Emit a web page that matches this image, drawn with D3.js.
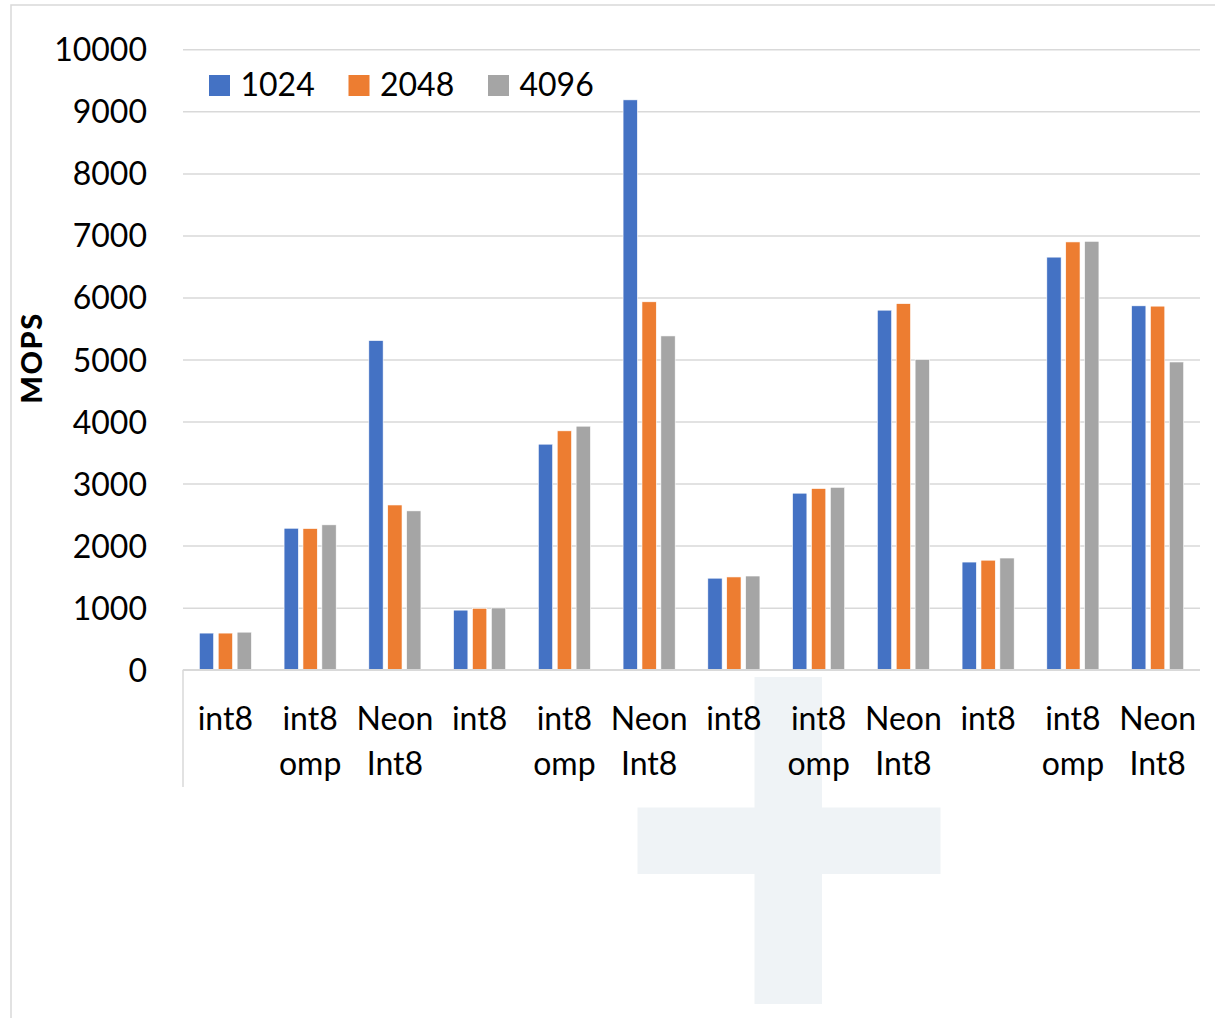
<!DOCTYPE html>
<html>
<head>
<meta charset="utf-8">
<script src="https://cdn.jsdelivr.net/npm/d3@7"></script>
<style>
  html, body { margin: 0; padding: 0; background: #ffffff; }
  svg { display: block; }
  text { font-family: Lato, "Open Sans", sans-serif; fill: #000; }
</style>
</head>
<body>
<svg id="chart" width="1215" height="1018"></svg>
<script>
// Benchmark throughput (MOPS) per implementation, for three problem sizes
const categories = [
  "int8", "int8 omp", "Neon Int8",
  "int8", "int8 omp", "Neon Int8",
  "int8", "int8 omp", "Neon Int8",
  "int8", "int8 omp", "Neon Int8"
];
const seriesNames = ["1024", "2048", "4096"];
const values1024 = [590, 2280, 5305, 960, 3635, 9185, 1475, 2845, 5795, 1735, 6650, 5865];
const values2048 = [590, 2275, 2655, 990, 3850, 5930, 1495, 2920, 5900, 1765, 6895, 5860];
const values4096 = [605, 2335, 2560, 995, 3925, 5380, 1510, 2940, 5000, 1800, 6905, 4960];
const seriesColors = ["#4472c4", "#ed7d31", "#a5a5a5"];
const yTicks = [0, 1000, 2000, 3000, 4000, 5000, 6000, 7000, 8000, 9000, 10000];
const yTitle = "MOPS";

const series = [values1024, values2048, values4096];

const svg = d3.select("#chart");
const W = 1215, H = 1018;
const plot = { left: 183, right: 1200, top: 49.3, bottom: 669.7 };

// outer chart frame (runs past the right and bottom edges)
svg.append("rect")
  .attr("x", 11).attr("y", 5)
  .attr("width", W + 20).attr("height", H + 20)
  .attr("fill", "#ffffff")
  .attr("stroke", "#d9d9d9").attr("stroke-width", 1.5);

const y = d3.scaleLinear().domain([0, 10000]).range([plot.bottom, plot.top]);
const x0 = d3.scaleBand().domain(d3.range(categories.length)).range([plot.left, plot.right]).padding(0);
const groupSpan = 52.1;
const x1 = d3.scaleBand().domain(d3.range(seriesNames.length)).range([0, groupSpan]).paddingInner(0.243).paddingOuter(0);

// light cross shape below the category axis
const cross = svg.append("g").attr("fill", "#eff3f6");
cross.append("rect").attr("x", 754.5).attr("y", 677).attr("width", 67.5).attr("height", 327);
cross.append("rect").attr("x", 637.5).attr("y", 807.5).attr("width", 303).attr("height", 66.5);

// horizontal gridlines
svg.append("g")
  .attr("transform", `translate(${plot.left},0)`)
  .call(d3.axisLeft(y).tickValues(yTicks).tickSize(-(plot.right - plot.left)).tickFormat(""))
  .call(g => g.select(".domain").remove())
  .call(g => g.selectAll("line").attr("stroke", "#d9d9d9").attr("stroke-width", 1.5));

// y tick labels
svg.append("g")
  .attr("transform", `translate(${plot.left},0)`)
  .call(d3.axisLeft(y).tickValues(yTicks).tickSize(0).tickPadding(36).tickFormat(d3.format("d")))
  .call(g => g.select(".domain").remove())
  .call(g => g.selectAll("text")
    .attr("font-size", 32)
    .attr("font-family", "Lato, 'Open Sans', sans-serif")
    .attr("fill", "#000")
    .attr("dy", "0.36em"));

// bars
const groups = svg.append("g").selectAll("g")
  .data(categories.map((c, i) => i))
  .join("g")
  .attr("transform", i => `translate(${x0(i) + x0.bandwidth() / 2 - groupSpan / 2},0)`);

groups.selectAll("rect")
  .data(i => series.map((s, k) => ({ k, v: s[i] })))
  .join("rect")
  .attr("x", d => x1(d.k))
  .attr("width", x1.bandwidth())
  .attr("y", d => y(d.v))
  .attr("height", d => y(0) - y(d.v))
  .attr("fill", d => seriesColors[d.k])
  .attr("stroke", "#ffffff")
  .attr("stroke-width", 0.6);

// category axis line and left divider
svg.append("line")
  .attr("x1", plot.left).attr("x2", plot.right)
  .attr("y1", y(0)).attr("y2", y(0))
  .attr("stroke", "#d9d9d9").attr("stroke-width", 1.5);
svg.append("line")
  .attr("x1", plot.left).attr("x2", plot.left)
  .attr("y1", y(0)).attr("y2", 787)
  .attr("stroke", "#d9d9d9").attr("stroke-width", 1.5);

// wrapped category labels
const labels = svg.append("g").selectAll("text")
  .data(categories.map((c, i) => ({ c, i })))
  .join("text")
  .attr("text-anchor", "middle")
  .attr("font-size", 32)
  .attr("x", d => x0(d.i) + x0.bandwidth() / 2)
  .attr("y", 729.5);
labels.selectAll("tspan")
  .data(d => d.c.split(" ").map(w => ({ w, x: x0(d.i) + x0.bandwidth() / 2 })))
  .join("tspan")
  .attr("x", d => d.x)
  .attr("dy", (d, j) => j === 0 ? 0 : 45.5)
  .text(d => d.w);

// y axis title
svg.append("text")
  .attr("transform", "translate(42,358) rotate(-90)")
  .attr("text-anchor", "middle")
  .attr("font-size", 29)
  .attr("font-weight", 900)
  .attr("letter-spacing", "1.5px")
  .text(yTitle);

// legend
const legend = svg.append("g").selectAll("g")
  .data(seriesNames.map((n, k) => ({ n, k })))
  .join("g")
  .attr("transform", d => `translate(${209 + d.k * 139.5},75)`);
legend.append("rect")
  .attr("width", 21).attr("height", 21)
  .attr("fill", d => seriesColors[d.k]);
legend.append("text")
  .attr("x", 31.5).attr("y", 21)
  .attr("font-size", 32)
  .text(d => d.n);
</script>
</body>
</html>
